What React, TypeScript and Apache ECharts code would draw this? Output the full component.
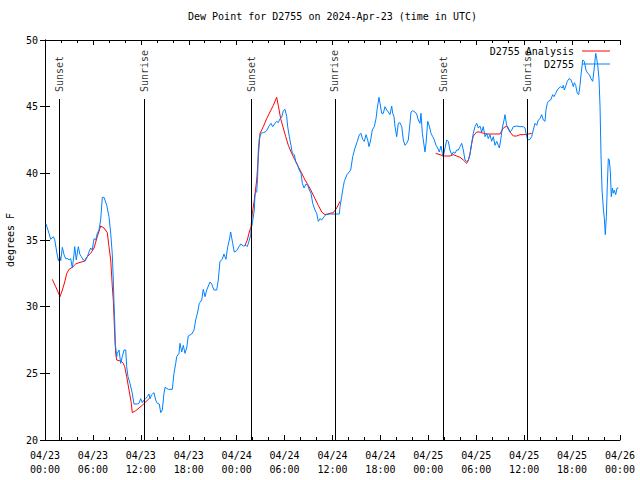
import React, { useEffect, useRef } from "react";
import * as echarts from "echarts";

const titleText = "Dew Point for D2755 on 2024-Apr-23 (time in UTC)";
const yAxisName = "degrees F";
const seriesNames = ["D2755 Analysis", "D2755"];

// hours since 04/23 00:00 UTC
const xTickLabels = [
  "04/23\n00:00", "04/23\n06:00", "04/23\n12:00", "04/23\n18:00",
  "04/24\n00:00", "04/24\n06:00", "04/24\n12:00", "04/24\n18:00",
  "04/25\n00:00", "04/25\n06:00", "04/25\n12:00", "04/25\n18:00",
  "04/26\n00:00",
];

const sunTimes = [1.83, 12.4, 25.8, 36.31, 49.84, 60.36];
const sunLabels = ["Sunset", "Sunrise", "Sunset", "Sunrise", "Sunset", "Sunrise"];

const obsTime = [
  0.13, 0.5, 0.71, 1.04, 1.21, 1.47, 1.67, 1.88, 1.97, 2.17, 2.38, 2.59, 2.88, 3.01, 3.22, 3.42, 3.63, 3.72, 3.92, 4.17,
  4.38, 4.55, 4.8, 5.01, 5.3, 5.51, 5.72, 5.92, 6.14, 6.35, 6.55, 6.76, 6.97, 7.18, 7.39, 7.73, 8.01, 8.23, 8.43, 8.55,
  8.64, 8.73, 8.8, 8.98, 9.05, 9.27, 9.48, 9.68, 9.89, 10.11, 10.23, 10.39, 10.64, 10.93, 11.14, 11.56, 11.77, 11.98, 12.18, 12.4,
  12.61, 12.81, 13.02, 13.15, 13.36, 13.65, 13.86, 14.06, 14.31, 14.49, 14.69, 14.9, 15.03, 15.44, 15.94, 16.15, 16.37, 16.49, 16.78, 16.9,
  17.12, 17.32, 17.53, 17.74, 17.94, 18.37, 18.66, 18.87, 19.12, 19.32, 19.62, 19.82, 20.04, 20.25, 20.45, 20.66, 20.87, 21.16, 21.5, 21.7,
  21.91, 22.2, 22.41, 22.66, 22.88, 23.08, 23.25, 23.5, 23.7, 24.0, 24.29, 24.51, 24.83, 25.17, 25.33, 25.54, 25.76, 25.8, 25.96, 26.21,
  26.3, 26.51, 26.63, 26.71, 26.83, 27.05, 27.34, 27.55, 27.76, 28.05, 28.3, 28.51, 28.8, 29.01, 29.21, 29.43, 29.64, 29.84, 30.05, 30.27,
  30.39, 30.59, 30.8, 30.97, 31.22, 31.39, 31.64, 31.84, 32.06, 32.22, 32.43, 32.68, 32.9, 33.1, 33.31, 33.52, 33.81, 34.02, 34.22, 34.44,
  34.65, 34.94, 35.19, 35.69, 36.85, 36.94, 37.15, 37.35, 37.48, 37.82, 38.28, 38.53, 38.82, 39.11, 39.36, 39.57, 39.78, 39.98, 40.2, 40.41,
  40.57, 40.78, 40.98, 41.23, 41.45, 41.61, 41.82, 41.95, 42.16, 42.36, 42.57, 42.79, 42.99, 43.2, 43.41, 43.54, 43.7, 43.83, 44.04, 44.24,
  44.45, 44.67, 44.87, 45.08, 45.29, 45.49, 45.7, 45.83, 46.04, 46.33, 46.54, 46.74, 46.96, 47.08, 47.25, 47.37, 47.58, 47.71, 47.92, 48.12,
  48.33, 48.55, 48.75, 48.96, 49.17, 49.37, 49.59, 49.75, 49.87, 50.09, 50.3, 50.5, 50.71, 50.93, 51.13, 51.34, 51.55, 51.75, 51.97, 52.18,
  52.38, 52.59, 52.8, 53.01, 53.22, 53.43, 53.63, 53.84, 54.06, 54.26, 54.47, 54.68, 54.88, 55.1, 55.31, 55.51, 55.72, 55.93, 56.14, 56.35,
  56.56, 56.76, 56.89, 57.06, 57.26, 57.48, 57.6, 57.81, 58.01, 58.23, 58.44, 58.64, 59.07, 59.48, 59.89, 60.11, 60.23, 60.44, 60.73, 60.94,
  61.14, 61.36, 61.57, 61.77, 61.98, 62.19, 62.4, 62.61, 62.73, 62.9, 63.02, 63.32, 63.57, 63.74, 63.95, 64.15, 64.36, 64.57, 64.78, 64.9,
  65.03, 65.24, 65.4, 65.61, 65.83, 66.03, 66.15, 66.28, 66.45, 66.65, 66.83, 66.99, 67.12, 67.33, 67.53, 67.74, 67.96, 68.16, 68.37, 68.58,
  68.75, 68.96, 69.08, 69.21, 69.37, 69.5, 69.62, 69.75, 69.91, 70.04, 70.16, 70.29, 70.41, 70.54, 70.66, 70.79, 70.91, 71.04, 71.16, 71.28,
  71.46, 71.63, 71.79,
];
const obsDewPoint = [
  36.2, 35.5, 35.05, 35.25, 35.05, 34.1, 33.45, 33.75, 33.45, 34.45, 33.9, 33.6, 33.6, 33.5, 33.6, 32.9, 33.9, 34.5, 33.5, 34.5,
  33.9, 33.75, 33.5, 33.4, 33.75, 34.1, 34.4, 34.25, 35.1, 35.0, 35.5, 35.75, 36.5, 38.2, 38.2, 37.6, 36.75, 35.5, 33.9, 32.0,
  30.25, 28.9, 27.25, 26.25, 26.5, 26.75, 25.75, 26.25, 26.75, 26.75, 25.5, 24.75, 24.25, 23.5, 22.7, 22.7, 22.75, 23.1, 22.8, 23.0,
  23.1, 23.25, 23.45, 23.1, 23.4, 23.55, 23.0, 22.75, 22.7, 22.05, 22.25, 23.5, 23.95, 23.8, 23.8, 25.0, 25.75, 26.25, 26.5, 27.25,
  26.6, 27.1, 26.5, 26.9, 27.8, 27.95, 28.25, 29.0, 29.6, 30.25, 30.5, 31.3, 30.75, 31.25, 31.55, 31.85, 31.7, 31.25, 31.25, 32.0,
  33.4, 33.55, 33.95, 33.55, 34.5, 35.0, 35.6, 34.75, 34.1, 34.2, 34.5, 34.7, 34.55, 34.6, 34.5, 34.9, 35.4, 35.75, 36.25, 37.25,
  38.5, 38.6, 39.75, 41.75, 42.6, 43.0, 43.05, 43.1, 43.2, 43.55, 43.75, 43.5, 43.75, 43.9, 43.8, 44.1, 44.2, 44.7, 44.8, 44.25,
  43.5, 42.75, 42.1, 41.5, 41.4, 40.9, 40.6, 40.25, 40.0, 39.25, 38.9, 39.2, 39.1, 38.75, 38.5, 37.75, 37.25, 37.0, 36.4, 36.6,
  36.5, 36.75, 36.9, 36.95, 36.95, 37.5, 38.25, 39.0, 39.4, 39.9, 40.25, 41.25, 41.9, 42.4, 42.9, 43.0, 42.55, 42.4, 42.9, 42.5,
  42.0, 42.5, 43.25, 43.5, 44.1, 44.9, 45.7, 45.25, 44.5, 44.5, 45.0, 44.75, 44.6, 44.4, 45.05, 44.5, 44.25, 43.5, 42.75, 43.75,
  43.8, 43.5, 42.5, 42.1, 42.25, 42.5, 43.75, 44.6, 44.7, 44.6, 44.45, 44.0, 43.75, 44.5, 43.0, 42.5, 41.6, 42.25, 43.9, 43.55,
  43.0, 42.75, 42.5, 42.1, 41.9, 41.6, 42.05, 41.5, 41.25, 41.9, 42.5, 42.4, 41.75, 41.4, 41.6, 41.5, 41.75, 41.75, 42.0, 42.25,
  41.75, 41.0, 40.9, 41.0, 41.4, 42.25, 43.0, 43.5, 43.75, 43.4, 43.55, 43.1, 43.5, 42.75, 43.0, 42.6, 42.9, 42.4, 42.75, 42.1,
  42.4, 42.1, 41.9, 42.5, 43.4, 44.0, 44.4, 43.6, 43.4, 43.1, 43.25, 43.5, 43.55, 43.5, 43.5, 43.4, 43.0, 42.5, 42.55, 42.75,
  43.25, 43.75, 43.6, 44.0, 44.1, 44.4, 44.0, 43.9, 44.75, 45.25, 45.4, 45.5, 45.9, 45.75, 46.0, 46.25, 46.4, 46.5, 46.4, 46.6,
  46.25, 46.6, 46.9, 47.1, 47.05, 46.75, 46.5, 46.8, 46.6, 46.0, 45.9, 46.6, 47.4, 48.5, 48.4, 47.75, 47.5, 47.4, 47.1, 46.9,
  47.75, 49.0, 48.6, 48.1, 47.1, 45.0, 41.4, 38.75, 37.4, 36.6, 35.4, 36.75, 39.1, 41.1, 41.0, 40.1, 38.25, 38.9, 38.5, 38.75,
  38.4, 38.9, 38.9,
];

// analysis; null breaks the line where there is no analysis
const anaTime = [
  0.91, 1.34, 1.88, 2.17, 2.47, 2.72, 3.01, 3.42, 3.84, 4.26, 4.88, 5.3, 5.72, 6.14, 6.55, 6.97, 7.39, 7.8, 8.01, 8.23,
  8.43, 8.55, 8.64, 8.73, 8.85, 8.98, 9.27, 9.55, 9.8, 9.98, 10.23, 10.52, 10.81, 10.93, 11.36, 11.77, 12.18, 12.61, 13.02, 13.15,
  19.0,
  25.04, 25.33, 25.58, 25.8, 25.96, 26.21, 26.51, 26.71, 26.92, 27.34, 27.76, 28.17, 28.59, 29.01, 29.21, 29.51, 29.84, 30.14, 30.47,
  30.89, 31.3, 31.72, 32.14, 32.56, 32.97, 33.4, 33.81, 34.22, 34.65, 35.06, 35.69, 36.1, 36.53, 36.94,
  43.0,
  48.92, 49.46, 49.87, 50.3, 50.71, 51.13, 51.55, 51.97, 52.38, 52.8, 53.01, 53.22, 53.43, 53.63, 54.06, 54.47, 54.88, 55.31, 56.14,
  56.97, 57.39, 57.81, 58.23, 58.64, 59.07, 59.48, 59.89, 60.52, 60.94,
];
const anaDewPoint = [
  32.05, 31.5, 30.75, 31.25, 31.85, 32.5, 32.8, 32.95, 33.2, 33.3, 33.4, 33.75, 34.0, 34.4, 35.25, 36.05, 35.9, 35.55, 34.5, 33.5,
  31.5, 30.5, 29.25, 27.9, 26.5, 26.0, 25.95, 25.9, 25.75, 25.5, 24.75, 23.75, 22.75, 22.05, 22.2, 22.4, 22.6, 22.85, 23.1, 23.2,
  null,
  34.6, 35.0, 35.6, 36.0, 37.0, 38.0, 39.5, 41.25, 43.0, 43.5, 44.1, 44.6, 45.1, 45.7, 45.1, 44.1, 43.4, 42.75, 42.1,
  41.5, 41.0, 40.5, 40.0, 39.5, 39.1, 38.6, 38.1, 37.6, 37.1, 36.9, 37.0, 37.05, 37.4, 37.9,
  null,
  41.5, 41.4, 41.3, 41.3, 41.3, 41.4, 41.3, 41.2, 41.0, 40.75, 40.95, 41.5, 42.25, 42.8, 43.1, 43.1, 43.0, 42.95, 42.95,
  42.95, 43.4, 43.55, 43.1, 42.8, 42.8, 42.9, 42.9, 42.95, 43.0,
];

const FONT = "DejaVu Sans Mono";

export default function App() {
  const ref = useRef<HTMLDivElement>(null);
  useEffect(() => {
    if (!ref.current) return;
    const chart = echarts.init(ref.current, undefined, { renderer: "svg" });
    const axisCommon = {
      type: "value" as const,
      axisLine: { show: true, lineStyle: { color: "#000", width: 1 } },
      splitLine: { show: false },
    };
    chart.setOption({
      animation: false,
      backgroundColor: "#fff",
      title: {
        text: titleText,
        left: 188,
        top: 11,
        padding: 0,
        textStyle: { fontFamily: FONT, fontSize: 10, fontWeight: "normal", color: "#000" },
      },
      legend: {
        orient: "vertical",
        right: 30,
        top: 45,
        padding: 0,
        align: "right",
        icon: "rect",
        itemWidth: 28,
        itemHeight: 1,
        itemGap: 1,
        textStyle: { fontFamily: FONT, fontSize: 10, color: "#000", lineHeight: 12, padding: [0, 3, 0, 0] },
        data: seriesNames,
      },
      grid: { left: 45, right: 20, top: 40, bottom: 40, outerBoundsMode: "none", containLabel: false },
      xAxis: [
        {
          ...axisCommon,
          position: "bottom",
          min: 0,
          max: 72,
          interval: 6,
          axisTick: { inside: true, length: 5, lineStyle: { color: "#000" } },
          minorTick: { show: true, splitNumber: 3, length: 3, lineStyle: { color: "#000" } },
          axisLabel: {
            fontFamily: FONT,
            fontSize: 10,
            color: "#000",
            margin: 8,
            lineHeight: 14,
            formatter: (v: number) => xTickLabels[Math.round(v / 6)] ?? "",
          },
        },
        {
          ...axisCommon,
          position: "top",
          min: 0,
          max: 72,
          interval: 6,
          axisTick: { inside: true, length: 5, lineStyle: { color: "#000" } },
          minorTick: { show: true, splitNumber: 3, length: 3, lineStyle: { color: "#000" } },
          axisLabel: { show: false },
        },
      ],
      yAxis: [
        {
          ...axisCommon,
          position: "left",
          min: 20,
          max: 50,
          interval: 5,
          name: yAxisName,
          nameLocation: "middle",
          nameRotate: 90,
          nameGap: 29,
          nameTextStyle: { fontFamily: FONT, fontSize: 10, color: "#000" },
          axisTick: { inside: true, length: 5, lineStyle: { color: "#000" } },
          axisLabel: { fontFamily: FONT, fontSize: 10, color: "#000", margin: 7 },
        },
        {
          ...axisCommon,
          position: "right",
          min: 20,
          max: 50,
          interval: 5,
          axisTick: { inside: true, length: 5, lineStyle: { color: "#000" } },
          axisLabel: { show: false },
        },
      ],
      series: [
        {
          type: "scatter",
          symbolSize: 0,
          silent: true,
          data: sunTimes.map((t, i) => [t, 46.1, sunLabels[i]]),
          label: {
            show: true,
            position: "inside",
            rotate: 90,
            align: "left",
            verticalAlign: "middle",
            fontFamily: FONT,
            fontSize: 10,
            color: "#000",
            formatter: (p: any) => p.data[2],
          },
          markLine: {
            symbol: "none",
            silent: true,
            label: { show: false },
            lineStyle: { color: "#000", width: 1, type: "solid" },
            data: sunTimes.map((t) => [{ coord: [t, 20] }, { coord: [t, 45.575] }]),
          },
        },
        {
          name: seriesNames[0],
          type: "line",
          symbol: "none",
          connectNulls: false,
          lineStyle: { color: "#ff0000", width: 1 },
          itemStyle: { color: "#ff0000" },
          data: anaTime.map((t, i) => [t, anaDewPoint[i]]),
        },
        {
          name: seriesNames[1],
          type: "line",
          symbol: "none",
          lineStyle: { color: "#0080ff", width: 1 },
          itemStyle: { color: "#0080ff" },
          data: obsTime.map((t, i) => [t, obsDewPoint[i]]),
        },
      ],
    });
    return () => chart.dispose();
  }, []);
  return (
    <div
      ref={ref}
      style={{ position: "absolute", left: 0, top: 0, width: 640, height: 480 }}
    />
  );
}
